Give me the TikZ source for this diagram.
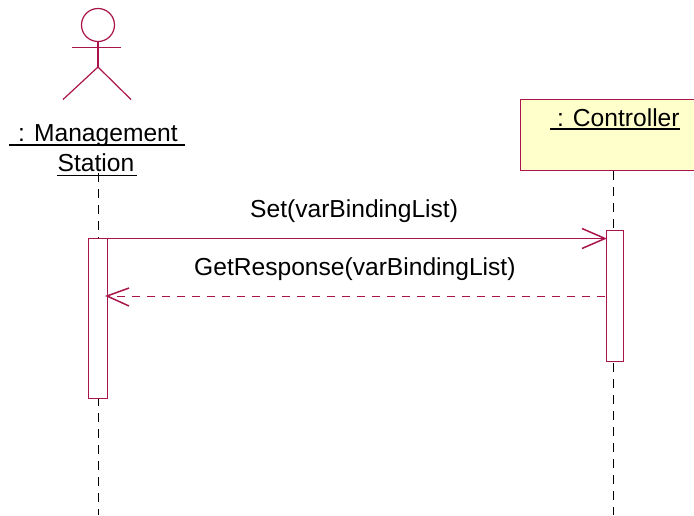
\documentclass[tikz,border=0pt]{standalone}
\usepackage{fontspec}
\setmainfont{Liberation Sans}
\definecolor{umlline}{RGB}{170,20,75}
\definecolor{umlfill}{RGB}{255,255,204}
\tikzset{
  x=1pt,y=-1pt,
  umlstroke/.style={draw=umlline,line width=1.2pt},
  lifeline/.style={draw=black,line width=0.9pt,dash pattern=on 9pt off 7pt},
  activation/.style={umlstroke,fill=white},
  barb/.style={draw=umlline,line width=1.5pt},
  msgtext/.style={inner sep=0pt,anchor=base west,font=\fontsize{24.6}{28}\selectfont},
  ul/.style={draw=black,line width=1.4pt},
}
\begin{document}
\begin{tikzpicture}
\useasboundingbox (0,0) rectangle (694,515);
% named anchor points
\coordinate (lifeLtop) at (98,173);
\coordinate (lifeLend) at (98,515);
\coordinate (lifeRtop) at (613,171);
\coordinate (lifeRend) at (613,515);
\coordinate (setL) at (107,238.5);
\coordinate (setR) at (605,238.5);
\coordinate (retR) at (605,296);
\coordinate (retL) at (107,296);
% lifelines
\draw[lifeline] (lifeLtop) -- (lifeLend);
\draw[lifeline] (lifeRtop) -- (lifeRend);
% controller box
\path[umlstroke,fill=umlfill] (695,99.5) -- (520.5,99.5) -- (520.5,170.5) -- (695,170.5);
\node[msgtext] (ctrl) at (550,126) {\ : Controller};
\draw[ul] (550,129) -- (680,129);
% actor
\node[circle,umlstroke,minimum size=33pt,inner sep=0pt] (head) at (98,25) {};
\coordinate (arml) at (72,47.5);
\coordinate (armr) at (121,47.5);
\coordinate (hip) at (98,67);
\coordinate (legl) at (63,99.5);
\coordinate (legr) at (131,99.5);
\draw[umlstroke] (head.south) ++(0,-1) -- (hip);
\draw[umlstroke] (arml) -- (armr);
\draw[umlstroke] (legl) -- (hip) -- (legr);
\node[msgtext] (mgmt) at (18,141) {: Management};
\draw[ul] (9,145) -- (185,145);
\node[msgtext] (stat) at (57.5,171) {Station};
\draw[ul] (57,175.5) -- (137,175.5);
% activations
\node[activation,minimum width=19pt,minimum height=160pt,inner sep=0pt,anchor=north west] (actL) at (88,238) {};
\node[activation,minimum width=17.5pt,minimum height=131pt,inner sep=0pt,anchor=north west] (actR) at (605.5,230) {};
% messages
\draw[umlstroke] (setL) -- (setR);
\draw[barb,line join=miter] (582,228.5) -- (setR) -- (582,248.5);
\draw[umlstroke,line width=1pt,dash pattern=on 8pt off 7pt] (retR) -- (retL);
\draw[barb,line join=miter] (129,288) -- (retL) -- (129,306);
\node[msgtext] (msgset) at (250,217) {Set(varBindingList)};
\node[msgtext] (msgget) at (194,275) {GetResponse(varBindingList)};
\end{tikzpicture}
\end{document}
